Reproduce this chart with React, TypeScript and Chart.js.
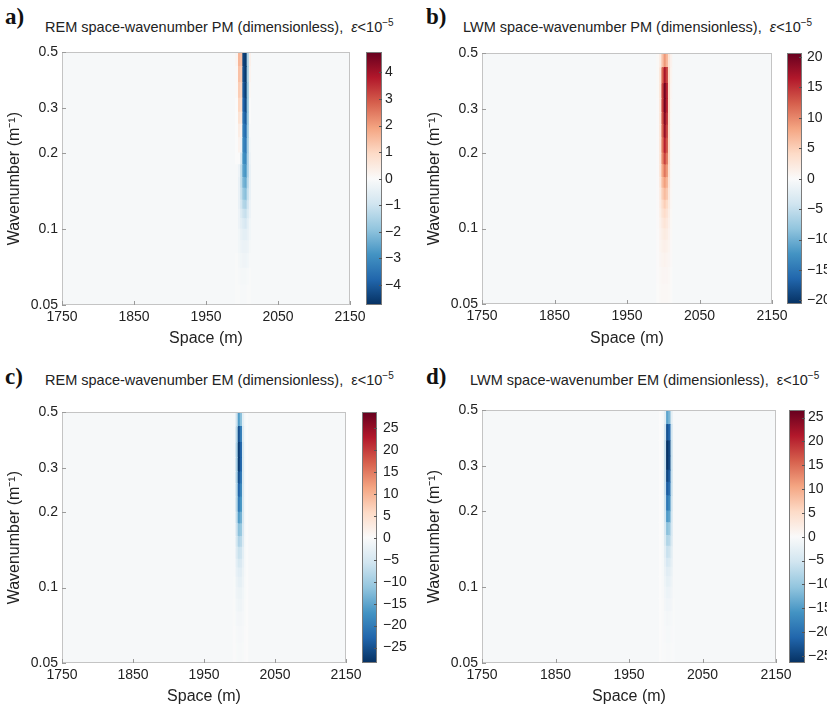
import React, { useEffect, useRef } from "react";
import { Chart, registerables } from "chart.js";
Chart.register(...registerables);

// ---------------- DATA ----------------
const SPACE_TICKS = [1750, 1850, 1950, 2050, 2150];
const WAVENUMBER_TICKS = [0.05, 0.1, 0.2, 0.3, 0.5];
// wavenumber band edges (rows, top -> bottom)
const K_EDGES = [0.5, 0.44, 0.38, 0.33, 0.29, 0.26, 0.23, 0.2, 0.18, 0.16, 0.145, 0.13, 0.12, 0.11, 0.1, 0.09, 0.08, 0.07, 0.06, 0.05];
// space column edges (m)
const X_EDGES = [1991, 1994, 1997, 2000, 2003, 2006, 2009, 2012];

// values (x1e-5), rows follow K_EDGES bands, columns follow X_EDGES bands
const REM_PM = [
  [0.2, 1.6, 1.4, -4.4, -4.6, -1.5, 0.3],
  [0.1, 1.4, 1.2, -4.2, -4.6, -1.6, 0.2],
  [0.1, 1.2, 1.0, -4.0, -4.5, -1.8, 0.1],
  [0.0, 1.0, 0.8, -3.8, -4.3, -1.8, 0.0],
  [0.0, 0.7, 0.5, -3.5, -4.0, -1.8, 0.0],
  [0.0, 0.4, 0.2, -3.3, -3.7, -1.7, -0.1],
  [0.0, 0.2, -0.3, -3.1, -3.4, -1.6, -0.2],
  [0.0, 0.0, -0.8, -2.9, -3.1, -1.5, -0.3],
  [-0.1, -0.3, -1.2, -2.6, -2.8, -1.5, -0.4],
  [-0.1, -0.4, -1.2, -2.2, -2.4, -1.3, -0.4],
  [-0.1, -0.4, -1.1, -1.8, -2.0, -1.1, -0.4],
  [-0.1, -0.4, -0.9, -1.4, -1.5, -0.9, -0.3],
  [-0.1, -0.3, -0.7, -1.0, -1.1, -0.7, -0.3],
  [-0.1, -0.3, -0.5, -0.7, -0.8, -0.5, -0.2],
  [-0.1, -0.2, -0.4, -0.5, -0.5, -0.4, -0.2],
  [-0.1, -0.2, -0.3, -0.35, -0.35, -0.3, -0.15],
  [-0.05, -0.15, -0.2, -0.25, -0.25, -0.2, -0.1],
  [-0.05, -0.1, -0.15, -0.15, -0.15, -0.1, -0.05],
  [-0.05, -0.05, -0.1, -0.1, -0.1, -0.05, -0.05],
];

const LWM_PM = [
  [0.3, 2, 6, 9, 7, 3, 1],
  [0.3, 3, 12, 17, 14, 4, 0.8],
  [0.3, 3, 14, 20, 16, 4, 0.6],
  [0.2, 3, 14, 20, 16, 4, 0.5],
  [0.2, 3, 13, 19, 15, 4, 0.4],
  [0.2, 3, 12, 18, 14, 4, 0.4],
  [0.2, 3, 11, 16, 13, 4, 0.4],
  [0.2, 3, 10, 14, 11, 4, 0.4],
  [0.2, 3, 8, 11, 9, 3.5, 0.4],
  [0.2, 2.5, 6.5, 8.5, 7, 3, 0.4],
  [0.2, 2, 5, 6.5, 5.5, 2.5, 0.4],
  [0.2, 1.8, 3.8, 5, 4, 2, 0.4],
  [0.2, 1.5, 3, 3.8, 3, 1.6, 0.3],
  [0.2, 1.2, 2.2, 2.8, 2.3, 1.3, 0.3],
  [0.1, 1, 1.6, 2, 1.7, 1, 0.3],
  [0.1, 0.8, 1.2, 1.4, 1.2, 0.8, 0.2],
  [0.1, 0.6, 0.8, 1, 0.8, 0.6, 0.2],
  [0.1, 0.4, 0.6, 0.6, 0.6, 0.4, 0.1],
  [0.05, 0.3, 0.4, 0.4, 0.4, 0.3, 0.1],
];

const REM_EM = [
  [-0.5, -6, -16, -12, -3, -0.5, 0],
  [-0.5, -8, -25, -20, -4, -0.5, 0],
  [-0.5, -9, -27, -23, -5, -0.5, 0],
  [-0.5, -9, -27, -23, -5, -0.5, 0],
  [-0.5, -9, -25, -21, -5, -0.5, 0],
  [-0.5, -8, -23, -19, -5, -0.5, 0],
  [-0.5, -8, -20, -17, -5, -0.5, 0],
  [-0.5, -7, -16, -14, -5, -0.5, 0],
  [-0.5, -6, -12, -11, -4.5, -0.5, 0],
  [-0.5, -5, -9, -8, -4, -0.5, 0],
  [-0.5, -4, -6.5, -6, -3, -0.5, 0],
  [-0.5, -3, -5, -4.5, -2.5, -0.5, 0],
  [-0.5, -2.5, -3.5, -3.5, -2, -0.5, 0],
  [-0.4, -2, -2.8, -2.8, -1.6, -0.4, 0],
  [-0.4, -1.5, -2, -2, -1.2, -0.4, 0],
  [-0.3, -1.1, -1.5, -1.5, -1, -0.3, 0],
  [-0.3, -0.8, -1, -1, -0.7, -0.3, 0],
  [-0.2, -0.5, -0.7, -0.7, -0.5, -0.2, 0],
  [-0.2, -0.4, -0.5, -0.5, -0.4, -0.2, 0],
];

const LWM_EM = [
  [0, -0.5, -3, -14, -12, -3, -0.5],
  [0, -0.5, -5, -23, -21, -5, -0.5],
  [0, -0.5, -6, -26, -24, -6, -0.5],
  [0, -0.5, -6, -26, -24, -6, -0.5],
  [0, -0.5, -6, -24, -22, -6, -0.5],
  [0, -0.5, -6, -22, -20, -6, -0.5],
  [0, -0.5, -5.5, -19, -17, -5.5, -0.5],
  [0, -0.5, -5, -15, -14, -5, -0.5],
  [0, -0.5, -4.5, -11, -10, -4.5, -0.5],
  [0, -0.5, -4, -8, -7.5, -4, -0.5],
  [0, -0.5, -3, -6, -5.5, -3, -0.5],
  [0, -0.5, -2.5, -4.5, -4, -2.5, -0.5],
  [0, -0.5, -2, -3.2, -3, -2, -0.5],
  [0, -0.4, -1.6, -2.5, -2.3, -1.6, -0.4],
  [0, -0.4, -1.2, -1.8, -1.7, -1.2, -0.4],
  [0, -0.3, -0.9, -1.3, -1.2, -0.9, -0.3],
  [0, -0.3, -0.6, -0.9, -0.8, -0.6, -0.3],
  [0, -0.2, -0.4, -0.6, -0.6, -0.4, -0.2],
  [0, -0.2, -0.3, -0.4, -0.4, -0.3, -0.2],
];

const CB_TICKS_REM_PM = [-4, -3, -2, -1, 0, 1, 2, 3, 4];
const CB_TICKS_LWM_PM = [-20, -15, -10, -5, 0, 5, 10, 15, 20];
const CB_TICKS_EM = [-25, -20, -15, -10, -5, 0, 5, 10, 15, 20, 25];
const CB_LIMITS = [4.75, 20.6, 28.5, 26.5];
const FIELD_BACKGROUND = [-0.1, -0.4, -0.6, -0.55];

const TITLES = [
  "REM space-wavenumber PM (dimensionless),",
  "LWM space-wavenumber PM (dimensionless),",
  "REM space-wavenumber EM (dimensionless),",
  "LWM space-wavenumber EM (dimensionless),",
];
const LETTERS = ["a)", "b)", "c)", "d)"];

// ---------------- STYLE ----------------
const FONT = "'Liberation Sans', Arial, Helvetica, sans-serif";
const STOPS: [number, number[]][] = [
  [-1, [5, 48, 97]],
  [-0.8, [33, 102, 172]],
  [-0.6, [67, 147, 195]],
  [-0.4, [146, 197, 222]],
  [-0.2, [209, 229, 240]],
  [0, [250, 250, 250]],
  [0.2, [253, 219, 199]],
  [0.4, [244, 165, 130]],
  [0.6, [214, 96, 77]],
  [0.8, [178, 24, 43]],
  [1, [103, 0, 31]],
];
function rgb(c: number[]) {
  return `rgb(${Math.round(c[0])},${Math.round(c[1])},${Math.round(c[2])})`;
}
function cmap(t: number) {
  const v = Math.max(-1, Math.min(1, t));
  for (let i = 0; i < STOPS.length - 1; i++) {
    const [t0, c0] = STOPS[i];
    const [t1, c1] = STOPS[i + 1];
    if (v >= t0 && v <= t1) {
      const f = (v - t0) / (t1 - t0);
      return rgb([0, 1, 2].map((k) => c0[k] + (c1[k] - c0[k]) * f));
    }
  }
  return rgb(STOPS[STOPS.length - 1][1]);
}
function fmt(v: number) {
  return v < 0 ? "\u2212" + String(-v) : String(v);
}

type PanelCfg = {
  idx: number;
  matrix: number[][];
  cbTicks: number[];
  left: number; top: number; width: number; height: number;
  padTop: number; yAxisW: number; plotW: number; xAxisH: number;
  cbGap: number; cbW: number; cbPad: number;
  letterX: number; letterY: number; titleX: number; titleY: number;
  italicEps: boolean;
};

const PANELS: PanelCfg[] = [
  { idx: 0, matrix: REM_PM, cbTicks: CB_TICKS_REM_PM, left: 0, top: 40, width: 420, height: 310, padTop: 12, yAxisW: 62, plotW: 288, xAxisH: 45, cbGap: 16, cbW: 16, cbPad: 3, letterX: 5, letterY: 4, titleX: 45, titleY: 17, italicEps: true },
  { idx: 1, matrix: LWM_PM, cbTicks: CB_TICKS_LWM_PM, left: 420, top: 40, width: 407, height: 310, padTop: 12, yAxisW: 62, plotW: 290, xAxisH: 46, cbGap: 15, cbW: 15, cbPad: 5, letterX: 426, letterY: 4, titleX: 463, titleY: 17, italicEps: true },
  { idx: 2, matrix: REM_EM, cbTicks: CB_TICKS_EM, left: 0, top: 398, width: 420, height: 310, padTop: 11, yAxisW: 62, plotW: 284, xAxisH: 45, cbGap: 16, cbW: 15, cbPad: 6, letterX: 5, letterY: 364, titleX: 45, titleY: 370, italicEps: false },
  { idx: 3, matrix: LWM_EM, cbTicks: CB_TICKS_EM, left: 420, top: 398, width: 407, height: 310, padTop: 11, yAxisW: 62, plotW: 294, xAxisH: 45, cbGap: 13, cbW: 16, cbPad: 3, letterX: 426, letterY: 364, titleX: 470, titleY: 370, italicEps: false },
];

function buildConfig(cfg: PanelCfg): any {
  const lim = CB_LIMITS[cfg.idx];
  const bg = FIELD_BACKGROUND[cfg.idx];
  const datasets = X_EDGES.slice(0, -1).map((x0, i) => {
    const xc = (x0 + X_EDGES[i + 1]) / 2;
    return {
      type: "bar",
      xAxisID: "x",
      yAxisID: "y",
      data: K_EDGES.slice(0, -1).map((k0, j) => ({ x: xc, y: [K_EDGES[j + 1], k0] })),
      backgroundColor: cfg.matrix.map((row) => cmap(row[i] / lim)),
      borderWidth: 0,
      grouped: false,
      barPercentage: 1,
      categoryPercentage: 1,
    };
  });

  const plugin = {
    id: "heatmapDecor" + cfg.idx,
    beforeDatasetsDraw(chart: any) {
      const { ctx, chartArea: a } = chart;
      ctx.save();
      ctx.fillStyle = cmap(bg / lim);
      ctx.fillRect(a.left, a.top, a.width, a.height);
      ctx.restore();
    },
    afterDatasetsDraw(chart: any) {
      const { ctx, chartArea: a, scales } = chart;
      ctx.save();
      ctx.strokeStyle = "#c4c4c4";
      ctx.lineWidth = 1;
      ctx.strokeRect(Math.round(a.left) + 0.5, Math.round(a.top) + 0.5, Math.round(a.width) - 1, Math.round(a.height) - 1);
      ctx.strokeStyle = "#9a9a9a";
      ctx.beginPath();
      SPACE_TICKS.forEach((v) => {
        const x = Math.round(scales.x.getPixelForValue(v)) + 0.5;
        ctx.moveTo(x, a.bottom);
        ctx.lineTo(x, a.bottom - 4);
      });
      WAVENUMBER_TICKS.forEach((v) => {
        const y = Math.round(scales.y.getPixelForValue(v)) + 0.5;
        ctx.moveTo(a.left, y);
        ctx.lineTo(a.left + 4, y);
      });
      ctx.stroke();
      ctx.restore();
    },
    afterDraw(chart: any) {
      const { ctx, chartArea: a, scales } = chart;
      const s = scales.cb;
      const x0 = Math.round(a.right + cfg.cbGap);
      const w = cfg.cbW;
      const top = s.getPixelForValue(lim);
      const bot = s.getPixelForValue(-lim);
      ctx.save();
      const g = ctx.createLinearGradient(0, bot, 0, top);
      STOPS.forEach(([t, c]) => g.addColorStop((t + 1) / 2, rgb(c)));
      ctx.fillStyle = g;
      ctx.fillRect(x0, top, w, bot - top);
      ctx.strokeStyle = "#7a7a7a";
      ctx.lineWidth = 1;
      ctx.strokeRect(x0 + 0.5, Math.round(top) + 0.5, w - 1, Math.round(bot - top) - 1);
      ctx.beginPath();
      cfg.cbTicks.forEach((v) => {
        const y = Math.round(s.getPixelForValue(v)) + 0.5;
        ctx.moveTo(x0 + w - 3, y);
        ctx.lineTo(x0 + w, y);
      });
      ctx.strokeStyle = "#555";
      ctx.stroke();
      ctx.restore();
    },
  };

  const tickFont = { family: FONT, size: 14 };
  const titleFont = { family: FONT, size: 16 };

  return {
    type: "bar",
    data: { datasets },
    plugins: [plugin],
    options: {
      responsive: false,
      animation: false,
      events: [],
      layout: { padding: { top: cfg.padTop, left: 0, right: 0, bottom: 0 } },
      plugins: { legend: { display: false }, tooltip: { enabled: false }, title: { display: false } },
      scales: {
        x: {
          type: "linear",
          position: "bottom",
          min: SPACE_TICKS[0],
          max: SPACE_TICKS[SPACE_TICKS.length - 1],
          offset: false,
          grid: { display: false, drawTicks: false, offset: false },
          border: { display: false },
          afterBuildTicks: (sc: any) => {
            sc.ticks = SPACE_TICKS.map((v) => ({ value: v }));
          },
          ticks: { font: tickFont, color: "#222", padding: 4, maxRotation: 0, autoSkip: false, callback: (v: any) => String(v) },
          title: { display: true, text: "Space (m)", font: titleFont, color: "#222", padding: { top: 0, bottom: 2 } },
          afterFit: (sc: any) => {
            sc.height = cfg.xAxisH;
          },
        },
        y: {
          type: "logarithmic",
          position: "left",
          min: WAVENUMBER_TICKS[0],
          max: WAVENUMBER_TICKS[WAVENUMBER_TICKS.length - 1],
          grid: { display: false, drawTicks: false },
          border: { display: false },
          afterBuildTicks: (sc: any) => {
            sc.ticks = WAVENUMBER_TICKS.map((v) => ({ value: v }));
          },
          ticks: { font: tickFont, color: "#222", padding: 4, autoSkip: false, callback: (v: any) => String(v) },
          title: { display: true, text: "Wavenumber (m\u207B\u00B9)", font: titleFont, color: "#222", padding: { top: 5, bottom: 0 } },
          afterFit: (sc: any) => {
            sc.width = cfg.yAxisW;
          },
        },
        cb: {
          type: "linear",
          position: "right",
          axis: "y",
          min: -lim,
          max: lim,
          grid: { display: true, drawOnChartArea: false, drawTicks: true, tickLength: cfg.cbGap + cfg.cbW, color: "rgba(0,0,0,0)" },
          border: { display: false },
          afterBuildTicks: (sc: any) => {
            sc.ticks = cfg.cbTicks.map((v) => ({ value: v }));
          },
          ticks: { font: tickFont, color: "#222", padding: cfg.cbPad, autoSkip: false, callback: (v: any) => fmt(Number(v)) },
          afterFit: (sc: any) => {
            sc.width = cfg.width - cfg.yAxisW - cfg.plotW;
          },
        },
      },
    },
  };
}

function Panel({ cfg }: { cfg: PanelCfg }) {
  const ref = useRef<HTMLCanvasElement>(null);
  useEffect(() => {
    if (!ref.current) return;
    const chart = new Chart(ref.current, buildConfig(cfg));
    return () => chart.destroy();
  }, [cfg]);
  return (
    <>
      <canvas
        ref={ref}
        width={cfg.width}
        height={cfg.height}
        style={{ position: "absolute", left: cfg.left, top: cfg.top, width: cfg.width, height: cfg.height }}
      />
      <div
        style={{
          position: "absolute",
          left: cfg.letterX,
          top: cfg.letterY,
          fontFamily: "'Liberation Serif', 'Times New Roman', serif",
          fontWeight: "bold",
          fontSize: 23,
          lineHeight: "26px",
          color: "#111",
        }}
      >
        {LETTERS[cfg.idx]}
      </div>
      <div
        style={{
          position: "absolute",
          left: cfg.titleX,
          top: cfg.titleY,
          fontFamily: FONT,
          fontSize: 14.5,
          lineHeight: "20px",
          whiteSpace: "nowrap",
          color: "#222",
        }}
      >
        {TITLES[cfg.idx]}
        {"\u00A0\u00A0"}
        <span style={{ fontStyle: cfg.italicEps ? "italic" : "normal" }}>ε</span>
        {"<10"}
        <sup style={{ fontSize: 10, verticalAlign: "6px", lineHeight: 0 }}>{"\u22125"}</sup>
      </div>
    </>
  );
}

export default function App() {
  return (
    <div
      style={{
        position: "absolute",
        left: 0,
        top: 0,
        width: 827,
        height: 709,
        background: "#fff",
        overflow: "hidden",
      }}
    >
      {PANELS.map((p) => (
        <Panel key={p.idx} cfg={p} />
      ))}
    </div>
  );
}
